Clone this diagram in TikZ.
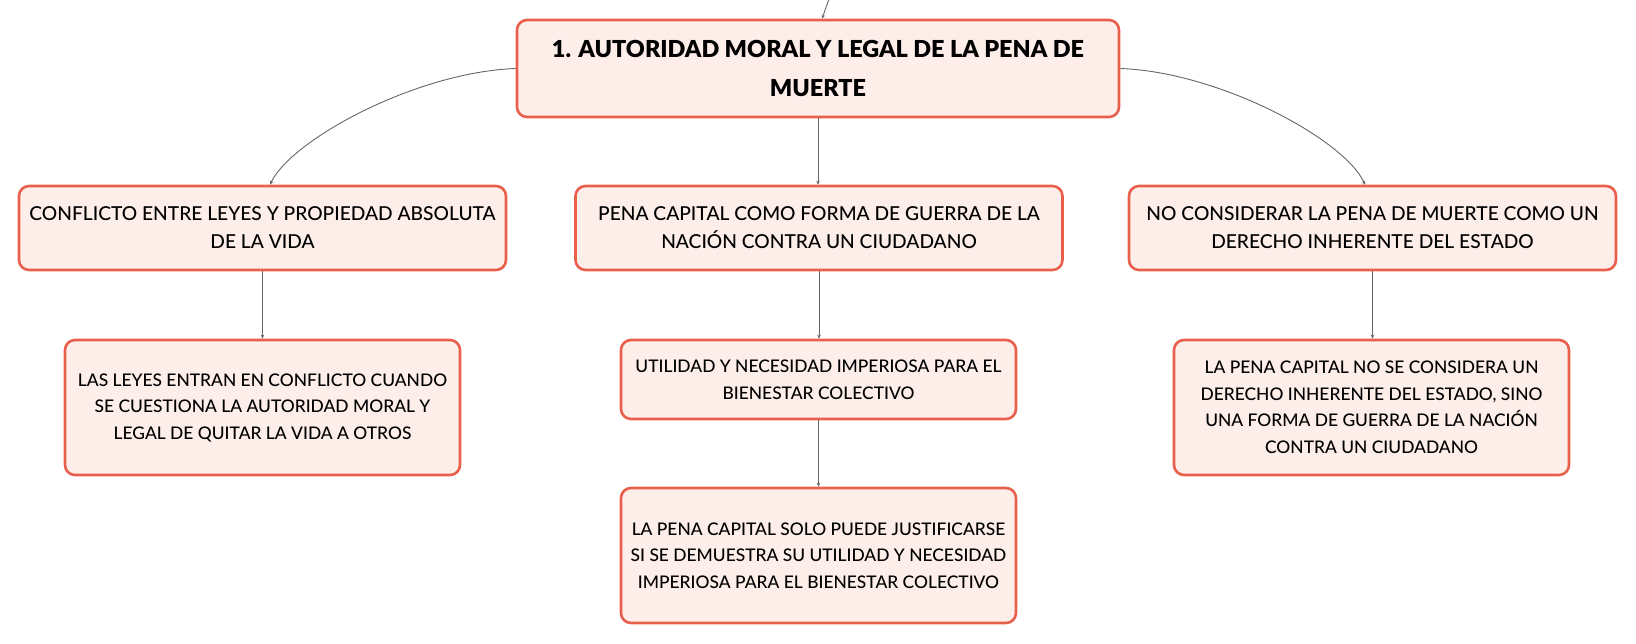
\documentclass[tikz,border=0pt]{standalone}
\usepackage{fontspec}
\setmainfont{Lato}[UprightFont=* Medium, BoldFont=* Black]
\usetikzlibrary{arrows.meta}
\definecolor{bord}{HTML}{E8604C}
\definecolor{boxfill}{HTML}{FDEEEA}
\definecolor{conn}{HTML}{666666}
\tikzset{
  box/.style={draw=bord, fill=boxfill, line width=2.6pt, rounded corners=10pt, inner sep=0pt, align=center, text=black},
  topbox/.style={box, minimum width=602pt, minimum height=97pt, font=\fontsize{23.4}{39}\selectfont\bfseries},
  lvone/.style={box, minimum width=487pt, minimum height=84pt, font=\fontsize{19.2}{28}\selectfont},
  lvtwo/.style={box, minimum width=395pt, font=\fontsize{17.4}{26.5}\selectfont},
  conline/.style={draw=conn, line width=0.9pt, -{Stealth[length=4pt,width=3.5pt]}}
}
\begin{document}
\begin{tikzpicture}[x=1pt,y=-1pt]
\useasboundingbox (0,0) rectangle (1636,643);
\node[topbox] (top) at (818,68.5) {1. AUTORIDAD MORAL Y LEGAL DE LA PENA DE\\MUERTE};
\node[lvone] (l1a) at (262.5,228) {CONFLICTO ENTRE LEYES Y PROPIEDAD ABSOLUTA\\DE LA VIDA};
\node[lvone] (l1b) at (819,228) {PENA CAPITAL COMO FORMA DE GUERRA DE LA\\NACIÓN CONTRA UN CIUDADANO};
\node[lvone] (l1c) at (1372.5,228) {NO CONSIDERAR LA PENA DE MUERTE COMO UN\\DERECHO INHERENTE DEL ESTADO};
\node[lvtwo, minimum height=135pt] (l2a) at (262.5,407.5) {LAS LEYES ENTRAN EN CONFLICTO CUANDO\\SE CUESTIONA LA AUTORIDAD MORAL Y\\LEGAL DE QUITAR LA VIDA A OTROS};
\node[lvtwo, minimum height=79pt] (l2b) at (818.5,379.5) {UTILIDAD Y NECESIDAD IMPERIOSA PARA EL\\BIENESTAR COLECTIVO};
\node[lvtwo, minimum height=135pt] (l2c) at (818.5,555.5) {LA PENA CAPITAL SOLO PUEDE JUSTIFICARSE\\SI SE DEMUESTRA SU UTILIDAD Y NECESIDAD\\IMPERIOSA PARA EL BIENESTAR COLECTIVO};
\node[lvtwo, minimum height=135pt] (l2d) at (1371.5,407.5) {LA PENA CAPITAL NO SE CONSIDERA UN\\DERECHO INHERENTE DEL ESTADO, SINO\\UNA FORMA DE GUERRA DE LA NACIÓN\\CONTRA UN CIUDADANO};
\coordinate (incoming) at (829,-1);
\draw[conline] (incoming) -- ([xshift=4pt]top.north);
\draw[conline] (top.west) .. controls (416,72) and (291,140) .. ([xshift=7.5pt]l1a.north);
\draw[conline] (top.east) .. controls (1220,72) and (1345,140) .. ([xshift=-7.5pt]l1c.north);
\draw[conline] (top.south) -- (top.south |- l1b.north);
\draw[conline] (l1a.south) -- (l2a.north);
\draw[conline] (l1b.south) -- (l1b.south |- l2b.north);
\draw[conline] (l2b.south) -- (l2c.north);
\draw[conline] (l1c.south) -- (l1c.south |- l2d.north);
\end{tikzpicture}
\end{document}
